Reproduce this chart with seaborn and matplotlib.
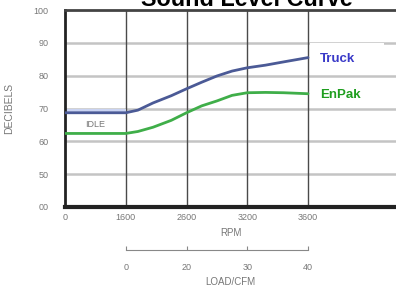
import numpy as np
import pandas as pd
import matplotlib
matplotlib.use("Agg")
import matplotlib.pyplot as plt
from matplotlib.patches import Rectangle
import seaborn as sns

# RPM ticks are evenly spaced on the chart, so positions are category slots
rpm_labels = ["0", "1600", "2600", "3200", "3600"]
load_labels = ["0", "20", "30", "40"]
db_ticks = [40, 50, 60, 70, 80, 90, 100]
db_labels = ["00", "50", "60", "70", "80", "90", "100"]

# readings taken off the curves (slot position -> decibels)
pos = [0, 1, 1.2, 1.45, 1.75, 2, 2.25, 2.5, 2.75, 3, 3.3, 3.6, 4]
truck = [68.7, 68.7, 69.5, 71.7, 73.9, 76.0, 78.0, 79.9, 81.4, 82.4, 83.2, 84.2, 85.5]
enpak = [62.4, 62.4, 63.0, 64.3, 66.4, 68.7, 70.8, 72.3, 74.0, 74.8, 74.9, 74.8, 74.5]
idle_top = 70

sns.set_style("white")
plt.rcParams['font.family'] = ['Liberation Sans', 'DejaVu Sans']

W, H = 396, 293
fig = plt.figure(figsize=(W / 100, H / 100), dpi=100)
ax = fig.add_axes([65 / W, 1 - 207 / H, 1 - 65 / W, 197 / H])

ax.set_xlim(0, 331 / 60.75)
ax.set_ylim(40, 100)

for y in db_ticks[1:-1]:
    ax.axhline(y, color="#c4c4c4", lw=1.8, zorder=1)
for x in range(1, len(rpm_labels)):
    ax.axvline(x, color="#4a4a4a", lw=1.0, zorder=1)

# idle band
ax.fill_between([0, 1], [truck[0], truck[1]], [idle_top, idle_top],
                color="#c9d3f2", lw=0, zorder=2)
ax.text(0.5, 65.2, "IDLE", ha="center", va="center", fontsize=6.5, color="#777777")

df = pd.DataFrame({"pos": pos, "Truck": truck, "EnPak": enpak})
sns.lineplot(data=df, x="pos", y="Truck", color="#4b5a96", lw=2, ax=ax, zorder=3)
sns.lineplot(data=df, x="pos", y="EnPak", color="#3fae49", lw=2, ax=ax, zorder=3)

# white label box behind "Truck"
ax.add_patch(Rectangle((4.03, 80.7), 1.22, 9.2, facecolor="white",
                       edgecolor="none", zorder=4))
ax.text(4.2, 85.2, "Truck", color="#3a3ac8", fontsize=9.5, fontweight="bold",
        va="center", zorder=5)
ax.text(4.2, 74.0, "EnPak", color="#1f9e1f", fontsize=9.5, fontweight="bold",
        va="center", zorder=5)

ax.set_xticks(range(len(rpm_labels)))
ax.set_xticklabels(rpm_labels)
ax.set_yticks(db_ticks)
ax.set_yticklabels(db_labels)
ax.tick_params(axis="both", labelsize=6.5, labelcolor="#777777", length=0)
ax.tick_params(axis="y", pad=12)
ax.tick_params(axis="x", pad=4)
ax.set_xlabel("RPM", fontsize=7, color="#777777", labelpad=5)
ax.set_ylabel("DECIBELS", fontsize=7.5, color="#777777", labelpad=14)

ax.spines["right"].set_visible(False)
ax.spines["left"].set_linewidth(2)
ax.spines["left"].set_color("#222222")
ax.spines["bottom"].set_linewidth(3)
ax.spines["bottom"].set_color("#222222")
ax.spines["top"].set_linewidth(2)
ax.spines["top"].set_color("#444444")

# secondary load scale under the RPM axis
ax2 = fig.add_axes([65 / W, 1 - 250 / H, 1 - 65 / W, 0.0001])
ax2.set_xlim(ax.get_xlim())
ax2.set_yticks([])
for side in ["left", "right", "top"]:
    ax2.spines[side].set_visible(False)
ax2.spines["bottom"].set_bounds(1, 4)
ax2.spines["bottom"].set_color("#888888")
ax2.spines["bottom"].set_linewidth(0.8)
ax2.set_xticks(range(1, 1 + len(load_labels)))
ax2.set_xticklabels(load_labels)
ax2.tick_params(axis="x", bottom=True, direction="in", length=3, width=0.8,
                color="#888888", labelsize=6.5, labelcolor="#777777", pad=9)
ax2.set_xlabel("LOAD/CFM", fontsize=7, color="#777777", labelpad=4)
ax2.patch.set_alpha(0)

fig.text(247 / W, 1 - 6 / H, "Sound Level Curve", ha="center", va="baseline",
         fontsize=16.8, fontweight="bold", color="black")

fig.savefig("out.png", dpi=100)
